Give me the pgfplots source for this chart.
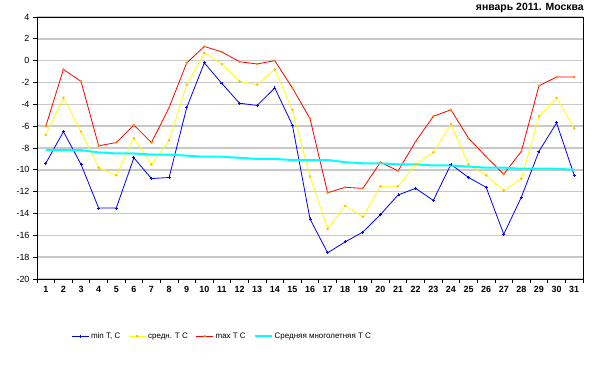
\documentclass[border=0pt]{standalone}
\usepackage{fontspec}
\setmainfont{Liberation Sans}
\usepackage{pgfplots}
\pgfplotsset{compat=1.18}
\usepackage{pgfplotstable}
\pgfplotstableread{
d tmin tavg tmax tnorm
1 -9.4 -6.8 -6.0 -8.2
2 -6.5 -3.4 -0.8 -8.2
3 -9.5 -6.5 -1.9 -8.2
4 -13.5 -9.8 -7.8 -8.4
5 -13.5 -10.5 -7.5 -8.5
6 -8.9 -7.1 -5.9 -8.5
7 -10.8 -9.5 -7.5 -8.6
8 -10.7 -7.3 -4.3 -8.6
9 -4.3 -2.2 -0.2 -8.7
10 -0.2 0.7 1.3 -8.8
11 -2.1 -0.3 0.8 -8.8
12 -3.9 -1.9 -0.1 -8.9
13 -4.1 -2.2 -0.3 -9.0
14 -2.5 -0.8 0.0 -9.0
15 -5.9 -4.5 -2.5 -9.1
16 -14.5 -10.6 -5.3 -9.1
17 -17.6 -15.4 -12.1 -9.1
18 -16.6 -13.3 -11.6 -9.3
19 -15.7 -14.3 -11.7 -9.4
20 -14.1 -11.5 -9.3 -9.4
21 -12.3 -11.5 -10.1 -9.5
22 -11.7 -9.5 -7.4 -9.5
23 -12.8 -8.4 -5.1 -9.6
24 -9.5 -5.8 -4.5 -9.6
25 -10.7 -9.5 -7.1 -9.7
26 -11.6 -10.5 -8.8 -9.8
27 -15.9 -11.9 -10.4 -9.8
28 -12.5 -10.8 -8.3 -9.9
29 -8.3 -5.1 -2.3 -9.9
30 -5.7 -3.4 -1.5 -9.9
31 -10.5 -6.2 -1.5 -10.0
}\data
\definecolor{gridgray}{RGB}{200,200,200}
\definecolor{cblue}{RGB}{0,0,255}
\definecolor{cyel}{RGB}{255,255,0}
\definecolor{cred}{RGB}{255,0,0}
\definecolor{ccyan}{RGB}{0,255,255}
\definecolor{corange}{RGB}{255,140,0}
\begin{document}
\begin{tikzpicture}[x=1bp,y=1bp]
\useasboundingbox (0,0) rectangle (599,369);
\node[anchor=east,font=\fontsize{10.5}{12}\selectfont\bfseries,inner sep=0pt] at (584,361) {январь 2011. Москва};
\begin{axis}[
  at={(37bp,90bp)}, anchor=south west,
  scale only axis, width=546bp, height=262bp,
  xmin=0.5, xmax=31.5, ymin=-20, ymax=4,
  ytick={-20,-18,...,4},
  xtick={1,...,31},
  minor xtick={0.5,1.5,...,31.5},
  tick align=outside,
  xtick pos=bottom, ytick pos=left,
  major tick length=4bp, minor tick length=4bp,
  major x tick style={draw=none},
  minor x tick style={black, line width=0.8bp},
  major y tick style={black, line width=0.8bp},
  axis line style={black, line width=0.9bp},
  ymajorgrids,
  major grid style={gridgray, line width=1.5bp},
  /pgf/number format/assume math mode=true,
  yticklabel style={font=\fontsize{9}{10}\selectfont},
  xticklabel style={font=\fontsize{9}{10}\selectfont\bfseries},
  legend style={draw=none, fill=none, legend columns=4, at={(0.339,-0.218)}, anchor=center,
    font=\fontsize{8}{9}\selectfont, /tikz/every even column/.append style={column sep=6bp}},
  legend cell align=left,
]
\addplot[cblue, line width=0.8bp, mark=+, mark size=1.5bp] table[x=d,y=tmin] {\data};
\addlegendentry{min T, C}
\addplot[cyel, line width=0.8bp, mark=*, mark size=0.8bp, mark options={fill=corange!60!cyel, draw=corange!60!cyel}] table[x=d,y=tavg] {\data};
\addlegendentry{средн. T C}
\addplot[cred, line width=0.8bp, mark=*, mark size=0.8bp, mark options={fill=corange, draw=corange}] table[x=d,y=tmax] {\data};
\addlegendentry{max T C}
\addplot[ccyan, line width=2bp, no marks] table[x=d,y=tnorm] {\data};
\addlegendentry{Средняя многолетняя T C}
\end{axis}
\end{tikzpicture}
\end{document}
